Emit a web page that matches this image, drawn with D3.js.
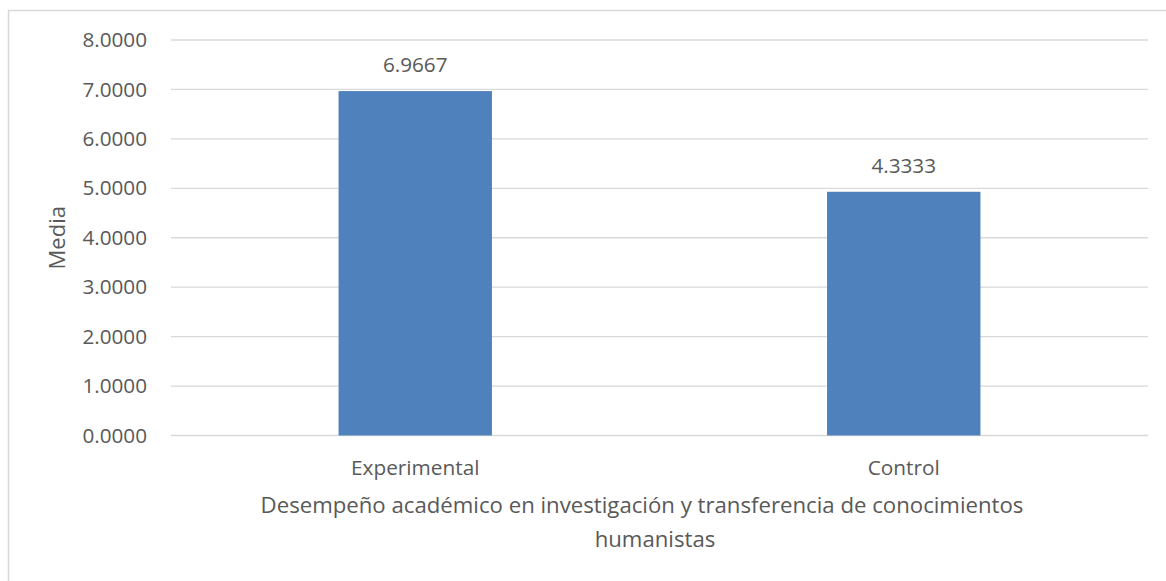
<!DOCTYPE html>
<html>
<head>
<meta charset="utf-8">
<script src="https://cdn.jsdelivr.net/npm/d3@7/dist/d3.min.js"></script>
<style>
  body { margin: 0; background: #fff; }
  text { font-family: "Open Sans", sans-serif; fill: #595959; }
</style>
</head>
<body>
<svg id="chart"></svg>
<script>
// data
const categories = ['Experimental', 'Control'];
const barValues = [6.9667, 4.93];          // bar heights as drawn
const dataLabels = ['6.9667', '4.3333'];   // labels as printed on the chart
const yTicks = [0, 1, 2, 3, 4, 5, 6, 7, 8];
const xTitle = ['Desempeño académico en investigación y transferencia de conocimientos', 'humanistas'];
const yTitle = 'Media';

const width = 1166;
const height = 581;
const margin = { top: 40, right: 18, bottom: 145.5, left: 171 };

const svg = d3.select('#chart')
  .attr('width', width)
  .attr('height', height);

// outer chart border
svg.append('rect')
  .attr('x', 8.5)
  .attr('y', 10.5)
  .attr('width', width + 10)
  .attr('height', height + 10)
  .attr('fill', 'none')
  .attr('stroke', '#d9d9d9')
  .attr('stroke-width', 1.5);

const x = d3.scaleBand()
  .domain(categories)
  .range([margin.left, width - margin.right]);

const y = d3.scaleLinear()
  .domain([0, 8])
  .range([height - margin.bottom, margin.top]);

// gridlines
svg.append('g')
  .selectAll('line')
  .data(yTicks)
  .enter()
  .append('line')
  .attr('x1', margin.left)
  .attr('x2', width - margin.right)
  .attr('y1', (d) => y(d))
  .attr('y2', (d) => y(d))
  .attr('stroke', '#d9d9d9')
  .attr('stroke-width', 1.3);

// y axis labels
const yAxis = svg.append('g')
  .attr('transform', `translate(${margin.left},0)`)
  .call(d3.axisLeft(y).tickValues(yTicks).tickFormat(d3.format('.4f')).tickSize(0).tickPadding(24));
yAxis.select('.domain').remove();
yAxis.selectAll('text')
  .style('font-size', '20.7px')
  .attr('fill', '#595959')
  .attr('font-family', '"Open Sans", sans-serif');

const barW = x.bandwidth() * 0.314;

svg.selectAll('rect.bar')
  .data(categories)
  .enter()
  .append('rect')
  .attr('class', 'bar')
  .attr('x', (d) => x(d) + x.bandwidth() / 2 - barW / 2)
  .attr('width', barW)
  .attr('y', (d, i) => y(barValues[i]))
  .attr('height', (d, i) => y(0) - y(barValues[i]))
  .attr('fill', '#4f81bd');

// data labels
svg.selectAll('text.val')
  .data(categories)
  .enter()
  .append('text')
  .attr('class', 'val')
  .attr('x', (d) => x(d) + x.bandwidth() / 2)
  .attr('y', (d, i) => y(barValues[i]) - 19)
  .attr('text-anchor', 'middle')
  .style('font-size', '20.7px')
  .attr('fill', '#404040')
  .text((d, i) => dataLabels[i]);

// x axis category labels
const xAxis = svg.append('g')
  .attr('transform', `translate(0,${y(0)})`)
  .call(d3.axisBottom(x).tickSize(0).tickPadding(0));
xAxis.select('.domain').remove();
xAxis.selectAll('text')
  .attr('dy', null)
  .attr('y', 39)
  .style('font-size', '20.8px')
  .attr('fill', '#595959')
  .attr('font-family', '"Open Sans", sans-serif');

// x axis title
const titleX = [642, 655];
svg.append('text')
  .attr('text-anchor', 'middle')
  .style('font-size', '22.2px')
  .selectAll('tspan')
  .data(xTitle)
  .enter()
  .append('tspan')
  .attr('x', (d, i) => titleX[i])
  .attr('y', (d, i) => 513 + i * 34)
  .text((d) => d);

// y axis title
svg.append('text')
  .attr('transform', `translate(65,${(y(0) + y(8)) / 2}) rotate(-90)`)
  .attr('text-anchor', 'middle')
  .style('font-size', '22px')
  .text(yTitle);
</script>
</body>
</html>
